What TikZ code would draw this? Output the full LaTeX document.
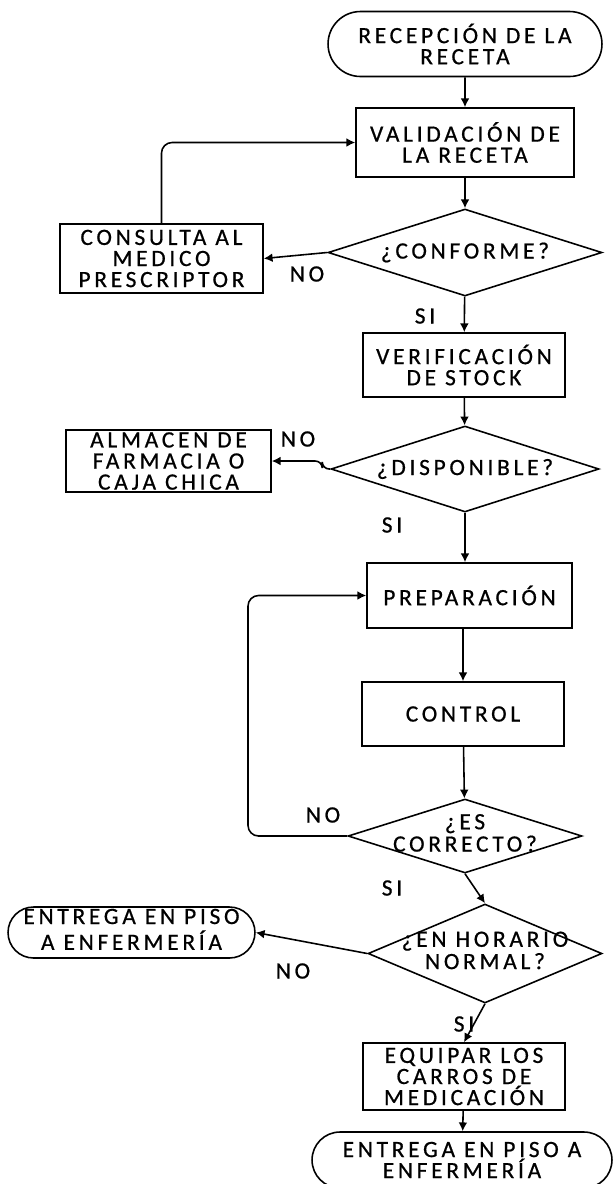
\documentclass[tikz,border=0pt]{standalone}
\usepackage{fontspec}
\setmainfont{Carlito}[LetterSpace=16, FakeBold=0.7]
\usetikzlibrary{arrows}
\usetikzlibrary{arrows.meta}
\usetikzlibrary{shapes}
\usetikzlibrary{calc}
\newcommand{\inlines}[1]{\makebox[0pt]{\begin{tabular}{@{}c@{}}#1\end{tabular}}}
\tikzstyle{block} = [rectangle, draw, line width = .9pt, align = center, inner sep = 0]
\tikzstyle{terminal} = [rounded rectangle, draw, line width = .9pt, align = center, inner sep = 0]
\tikzstyle{decision} = [diamond, draw, line width = .9pt, aspect = 3, inner sep = 0]
\tikzstyle{flow} = [line width = .9pt, -{Latex[length = 5pt, width = 5pt]}]
\tikzstyle{answer} = [inner sep = 0]
\tikzstyle{chart picture} = [x = .02cm, y = -.02cm, font = \fontsize{13.3}{12}\selectfont]

\begin{document}
\begin{tikzpicture}[chart picture]
    \useasboundingbox (0, 0) rectangle (613, 1184);
    % main column
    \node [terminal, minimum width = 5.48cm, minimum height = 1.3cm] (recepcion) at (465, 44) {RECEPCIÓN DE LA\\RECETA};
    \node [block, minimum width = 4.36cm, minimum height = 1.38cm] (validacion) at (465, 142.5) {VALIDACIÓN DE\\LA RECETA};
    \node [decision, minimum width = 5.48cm, minimum height = 1.74cm] (conforme) at (465, 252.5) {¿CONFORME?};
    \node [block, minimum width = 4.04cm, minimum height = 1.28cm] (verificacion) at (464, 365) {VERIFICACIÓN\\DE STOCK};
    \node [decision, minimum width = 5.36cm, minimum height = 1.72cm] (disponible) at (465, 469) {¿DISPONIBLE?};
    \node [block, minimum width = 4.1cm, minimum height = 1.3cm] (preparacion) at (469.5, 595.5) {PREPARACIÓN};
    \node [block, minimum width = 4.04cm, minimum height = 1.28cm] (control) at (463, 714) {CONTROL};
    \node [decision, minimum width = 4.68cm, minimum height = 1.48cm] (correcto) at (465, 836) {\inlines{¿ES\\CORRECTO?}};
    \node [decision, minimum width = 4.68cm, minimum height = 1.98cm] (horario) at (485, 953.5) {\inlines{¿EN HORARIO\\NORMAL?}};
    \node [block, minimum width = 4.04cm, minimum height = 1.34cm] (equipar) at (464, 1076.5) {EQUIPAR LOS\\CARROS DE\\MEDICACIÓN};
    \node [terminal, minimum width = 6cm, minimum height = 1.12cm] (entregados) at (462, 1160) {ENTREGA EN PISO A\\ENFERMERÍA};
    % side boxes
    \node [block, minimum width = 4.06cm, minimum height = 1.38cm] (consulta) at (161.5, 258.5) {CONSULTA AL\\MEDICO\\PRESCRIPTOR};
    \node [block, minimum width = 4.1cm, minimum height = 1.24cm] (almacen) at (168.5, 461) {ALMACEN DE\\FARMACIA O\\CAJA CHICA};
    \node [terminal, minimum width = 4.94cm, minimum height = 1.02cm] (entregauno) at (131.5, 932.5) {\inlines{ENTREGA EN PISO\\A ENFERMERÍA}};
    \coordinate (back) at (248, 0);

    \draw [flow] (recepcion) -- (validacion);
    \draw [flow] (validacion) -- (conforme);
    \draw [flow] (conforme.west) -- (consulta.east);
    \draw [flow, rounded corners = 6pt] (consulta.north) |- (validacion.west);
    \draw [flow] (conforme) -- (verificacion);
    \draw [flow] (verificacion) -- (disponible);
    \draw [flow, rounded corners = 4pt] (disponible.west) -- ++(-8, 0) |- (almacen.east);
    \draw [flow] (disponible.south) -- (disponible.south |- preparacion.north);
    \draw [flow] (preparacion.south -| control) -- (control.north);
    \draw [flow] (control) -- (correcto);
    \draw [flow, rounded corners = 6pt] (correcto.west) -- (correcto.west -| back) |- (preparacion.west);
    \draw [flow] (correcto.south) -- (horario.north);
    \draw [flow] (horario.west) -- (entregauno.east);
    \draw [flow] (horario.south) -- (equipar.north);
    \draw [flow] (equipar) -- (entregados);

    % answers
    \node [answer] (noconforme) at (307, 274) {NO};
    \node [answer] (siconforme) at (425, 316) {SI};
    \node [answer] (nodisponible) at (298, 439) {NO};
    \node [answer] (sidisponible) at (392, 525) {SI};
    \node [answer] (nocorrecto) at (323, 815) {NO};
    \node [answer] (sicorrecto) at (392, 888) {SI};
    \node [answer] (nohorario) at (293, 971) {NO};
    \node [answer] (sihorario) at (464, 1024) {SI};
\end{tikzpicture}
\end{document}
